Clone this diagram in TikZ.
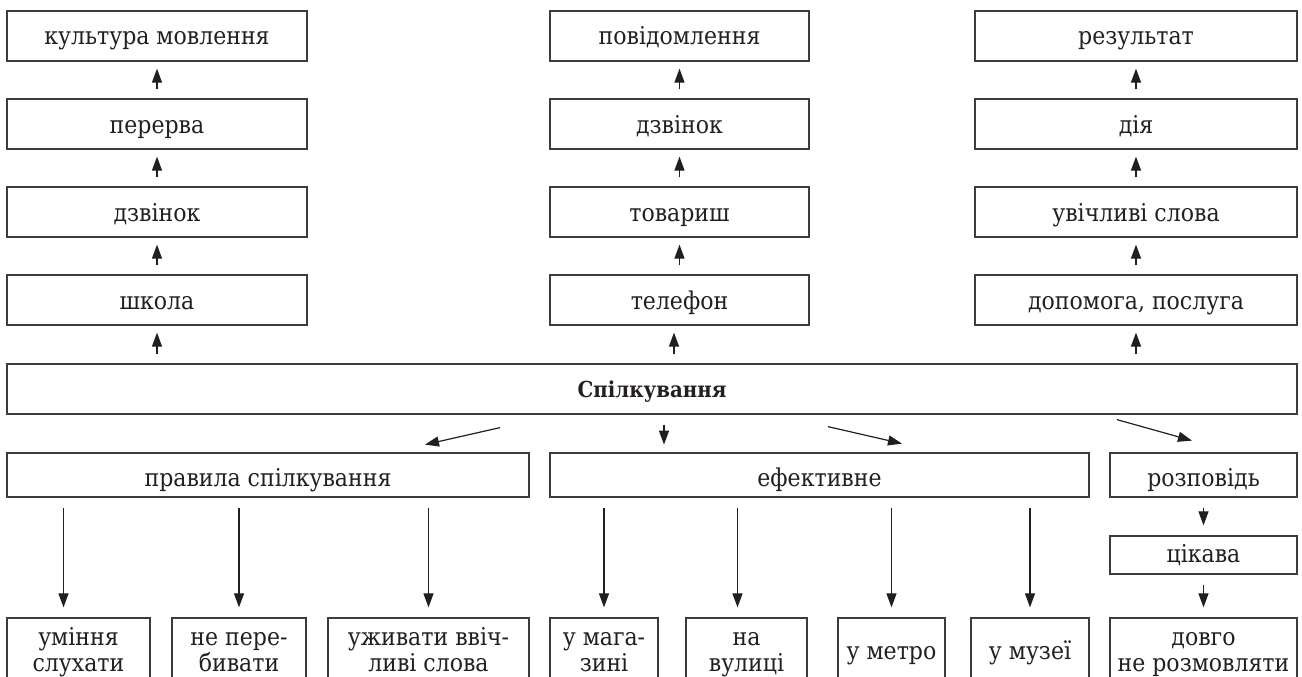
\documentclass[tikz,border=0pt]{standalone}
\usepackage{fontspec}
\setmainfont{DejaVu Serif Condensed}
\usepackage{tikz}
\usetikzlibrary{arrows.meta}
\definecolor{ink}{HTML}{231F20}
\definecolor{frame}{HTML}{3C3C3C}
\tikzset{
  box/.style={draw=frame, line width=1.25pt, inner sep=0pt, align=center,
    text=ink, font=\fontsize{24.5}{28}\selectfont},
  hbox/.style={box, text height=34pt, text depth=16pt},
  mbox/.style={box, text height=33pt, text depth=11pt},
  lbox/.style={box, font=\fontsize{24.5}{26}\selectfont, text height=53pt, text depth=19pt},
  sbox/.style={box, text height=41pt, text depth=31pt},
  arr/.style={draw=ink, line width=1.2pt, -{Triangle[length=14pt,width=10pt]}},
  uparr/.style={arr, shorten <=9pt, shorten >=7pt},
  darr/.style={arr, shorten <=10pt, shorten >=10pt}
}

\begin{document}
\begin{tikzpicture}[x=1pt,y=-1pt]
  \useasboundingbox (0,0) rectangle (1302,677);

  % top columns
  \node[hbox, minimum width=300pt] (kult) at (157,36) {культура мовлення};
  \node[hbox, minimum width=300pt] (perer) at (157,124) {перерва};
  \node[hbox, minimum width=300pt] (dzvA) at (157,212) {дзвінок};
  \node[hbox, minimum width=300pt] (shk) at (157,300) {школа};

  \node[hbox, minimum width=259pt] (povid) at (679.5,36) {повідомлення};
  \node[hbox, minimum width=259pt] (dzvB) at (679.5,124) {дзвінок};
  \node[hbox, minimum width=259pt] (tovar) at (679.5,212) {товариш};
  \node[hbox, minimum width=259pt] (telef) at (679.5,300) {телефон};

  \node[hbox, minimum width=322pt] (rez) at (1136,36) {результат};
  \node[hbox, minimum width=322pt] (diya) at (1136,124) {дія};
  \node[hbox, minimum width=322pt] (uvich) at (1136,212) {увічливі слова};
  \node[hbox, minimum width=322pt] (dopom) at (1136,300) {допомога, послуга};

  \node[hbox, minimum width=1290pt, text height=33pt, text depth=17pt,
    font=\fontsize{22}{24}\selectfont\bfseries] (spilk) at (652,389) {Спілкування};

  % second row
  \node[mbox, minimum width=522pt] (prav) at (268,475) {правила спілкування};
  \node[mbox, minimum width=539pt] (efekt) at (819.5,475) {ефективне};
  \node[mbox, minimum width=187pt] (rozp) at (1203.5,475) {розповідь};
  \node[box, minimum width=187pt, text height=26pt, text depth=12pt] (tsik) at (1203.5,555) {цікава};

  % bottom row
  \node[lbox, minimum width=143pt] (umin) at (78.5,654) {уміння\\слухати};
  \node[lbox, minimum width=134pt] (neper) at (239,654) {не пере-\\бивати};
  \node[lbox, minimum width=201pt] (uzhyv) at (428.5,654) {уживати ввіч-\\ливі слова};
  \node[lbox, minimum width=108pt] (mag) at (604,654) {у мага-\\зині};
  \node[lbox, minimum width=121pt] (vul) at (746.5,654) {на\\вулиці};
  \node[sbox, minimum width=107pt] (metro) at (891.5,654) {у метро};
  \node[sbox, minimum width=118pt] (muz) at (1030,654) {у музеї};
  \node[lbox, minimum width=187pt] (dovgo) at (1203.5,654) {довго\\не розмовляти};

  \draw[uparr] (perer) -- (kult);
  \draw[uparr] (dzvA) -- (perer);
  \draw[uparr] (shk) -- (dzvA);
  \draw[uparr] (spilk.north -| shk) -- (shk);
  \draw[uparr] (dzvB) -- (povid);
  \draw[uparr] (tovar) -- (dzvB);
  \draw[uparr] (telef) -- (tovar);
  \coordinate (telefBot) at ([xshift=-5.5pt]telef.south);
  \draw[uparr] (spilk.north -| telefBot) -- (telefBot);
  \draw[uparr] (diya) -- (rez);
  \draw[uparr] (uvich) -- (diya);
  \draw[uparr] (dopom) -- (uvich);
  \draw[uparr] (spilk.north -| dopom) -- (dopom);

  \draw[arr] (spilk.south) ++(-152,13) -- ++(-75,17);
  \draw[arr] (spilk.south) ++(12,10) -- ++(0,20);
  \draw[arr] (spilk.south) ++(176,12) -- ++(74,17);
  \draw[arr] (spilk.south) ++(465,5) -- ++(75,21);

  \coordinate (uminTop) at ([xshift=-15pt]umin.north);
  \coordinate (vulTop) at ([xshift=-9pt]vul.north);
  \draw[darr] (prav.south -| uminTop) -- (uminTop);
  \draw[darr] (prav.south -| neper) -- (neper);
  \draw[darr] (prav.south -| uzhyv) -- (uzhyv);
  \draw[darr] (efekt.south -| mag) -- (mag);
  \draw[darr] (efekt.south -| vulTop) -- (vulTop);
  \draw[darr] (efekt.south -| metro) -- (metro);
  \draw[darr] (efekt.south -| muz) -- (muz);
  \draw[darr] (rozp) -- (tsik);
  \draw[darr] (tsik) -- (dovgo);
\end{tikzpicture}
\end{document}
